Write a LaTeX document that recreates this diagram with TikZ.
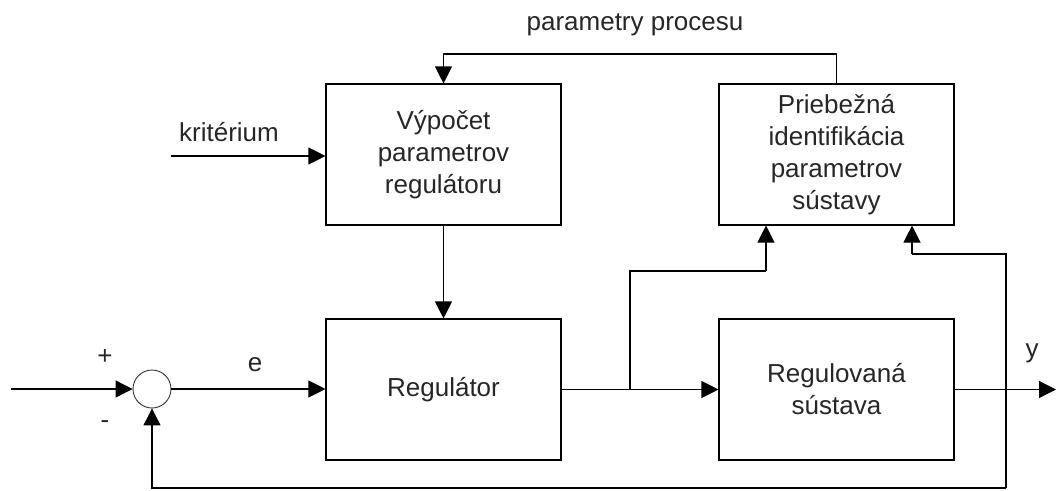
\documentclass[tikz,border=0pt]{standalone}
\usepackage{fontspec}
\setmainfont{Liberation Sans}
\usetikzlibrary{arrows.meta,calc}
\begin{document}
\begin{tikzpicture}[x=1pt,y=-1pt,
  every node/.style={font=\fontsize{26}{32}\selectfont, text=black!85},
  blk/.style={draw, line width=1.1pt, minimum width=235pt, minimum height=141pt, inner sep=0pt, align=center},
  sumnode/.style={draw=black!80, line width=0.9pt, circle, minimum size=38pt, inner sep=0pt},
  conn/.style={line width=1.1pt},
  arr/.style={conn, -{Triangle[length=17pt,width=17pt]}},
  lbl/.style={inner sep=0pt}
]
\useasboundingbox (0,0) rectangle (1056,490);
\node[blk] (vyp) at (443.5,154.5) {Výpočet\\parametrov\\regulátoru};
\node[blk] (ident) at (836.5,154.5) {Priebežná\\identifikácia\\parametrov\\sústavy};
\node[blk] (reg) at (443.5,389.5) {Regulátor};
\node[blk] (sys) at (836.5,389.5) {Regulovaná\\sústava};
\node[sumnode] (sum) at (152,389) {};

\coordinate (in) at (11,389);
\coordinate (krit) at (171,156);
\coordinate (br) at (630,389.5);
\coordinate (brk) at (766,271);
\coordinate (tap) at (1006,389.5);
\coordinate (out) at (1056,389.5);
\coordinate (top) at (836.5,54);
\coordinate (fbl) at (1006,488);
\coordinate (fbk) at (912,254);

% labels
\node[lbl] (plus) at (105,357) {+};
\node[lbl] (minus) at (105,425) {-};
\node[lbl] (elbl) at (255,365) {e};
\node[lbl] (ylbl) at (1032,353) {y};
\node[lbl] (kritlbl) at (229,132) {kritérium};
\node[lbl] (parlbl) at (635,25) {parametry procesu};

% connectors
\draw[arr] (in) -- (sum.west);
\draw[arr] (sum.east) -- (sum.east -| reg.west);
\draw[arr] (krit) -- (krit -| vyp.west);
\draw[arr] (vyp.south) -- (reg.north);
\draw[arr] (ident.north) -- (top) -| (vyp.north);
\draw[arr] (reg.east) -- (sys.west);
\draw[conn] (br) |- (brk);
\draw[arr] (brk) -- (brk |- ident.south);
\draw[arr] (sys.east) -- (out);
\draw[conn] (fbl) |- (fbk);
\draw[arr] (fbk) -- (fbk |- ident.south);
\draw[arr] (fbl) -| (sum.south);
\end{tikzpicture}
\end{document}
